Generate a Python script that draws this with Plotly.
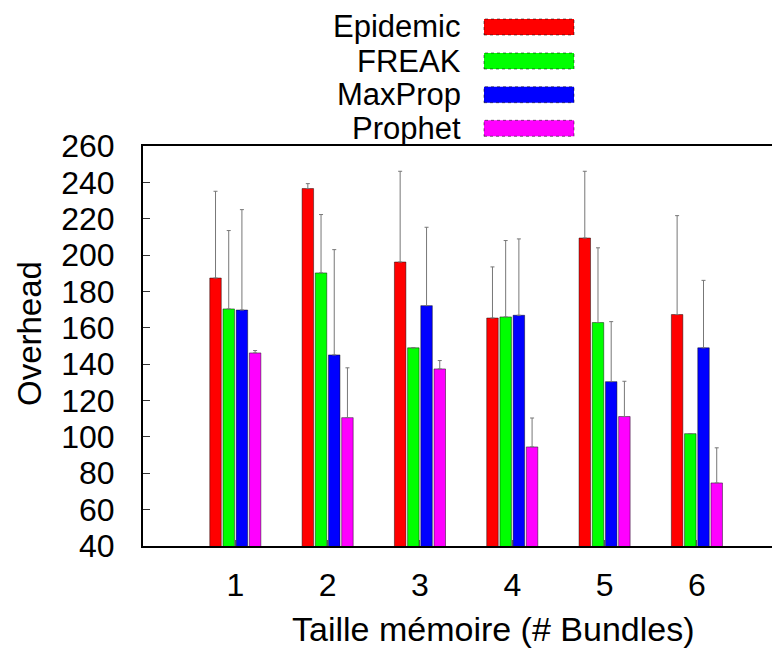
import plotly.graph_objects as go

categories = [1, 2, 3, 4, 5, 6]
series_names = ["Epidemic", "FREAK", "MaxProp", "Prophet"]
series_colors = ["#ff0000", "#00ff00", "#0000ff", "#ff00ff"]

epidemic = [187.4, 236.6, 196.2, 165.4, 209.4, 167.3]
freak = [170.4, 190.2, 149.0, 166.0, 162.9, 101.8]
maxprop = [169.8, 145.1, 172.2, 166.9, 130.4, 149.0]
prophet = [146.2, 110.6, 137.4, 94.5, 111.2, 74.7]

epidemic_upper = [235.1, 239.3, 246.1, 193.5, 246.1, 221.7]
freak_upper = [213.5, 222.3, 149.0, 208.0, 204.0, 101.8]
maxprop_upper = [225.0, 203.0, 215.3, 208.9, 163.4, 186.1]
prophet_upper = [147.5, 138.0, 142.0, 110.4, 130.6, 94.0]

y_ticks = [40, 60, 80, 100, 120, 140, 160, 180, 200, 220, 240, 260]

values = [epidemic, freak, maxprop, prophet]
uppers = [epidemic_upper, freak_upper, maxprop_upper, prophet_upper]

FONT = "Liberation Sans, Arial, sans-serif"

fig = go.Figure()
for name, color, vals, up in zip(series_names, series_colors, values, uppers):
    fig.add_trace(go.Bar(
        x=categories, y=vals, name=name,
        marker=dict(color=color, line=dict(color="rgba(0,0,0,0.45)", width=1)),
        error_y=dict(type="data", symmetric=False,
                     array=[u - v for u, v in zip(up, vals)],
                     arrayminus=[0] * len(vals),
                     color="#777777", thickness=1, width=2),
        showlegend=False,
    ))

# page body has an 8px margin: work in screen pixels and shift into figure pixels
OFF = 8
FW, FH = 780, 651
# plot area in screen pixels: left 143, right 780, top 146, bottom 546
L, R, T, B = 143 - OFF, 780 - OFF, 146 - OFF, 546 - OFF
W, H = R - L, B - T

def px(x):
    return (x - OFF - L) / W

def py(y):
    return (B - (y - OFF)) / H

annotations = []
shapes = []
row_y = [27, 61, 94.7, 128.3]
for name, color, yc in zip(series_names, series_colors, row_y):
    annotations.append(dict(x=px(463), y=py(yc), xref="paper", yref="paper",
                            text=name, showarrow=False, xanchor="right", yanchor="middle",
                            font=dict(family=FONT, size=31, color="black")))
    shapes.append(dict(type="rect", xref="paper", yref="paper",
                       x0=px(484), x1=px(574), y0=py(yc + 8), y1=py(yc - 8),
                       fillcolor=color, line=dict(color="rgba(0,0,0,0.5)", width=1, dash="dot")))

annotations.append(dict(x=px(29), y=py(334), xref="paper", yref="paper", text="Overhead",
                        showarrow=False, textangle=-90, xanchor="center", yanchor="middle",
                        borderpad=0,
                        font=dict(family=FONT, size=33, color="black")))
annotations.append(dict(x=px(493), y=py(629), xref="paper", yref="paper",
                        text="Taille mémoire (# Bundles)", showarrow=False,
                        xanchor="center", yanchor="middle",
                        font=dict(family=FONT, size=34, color="black")))

fig.update_layout(
    width=FW, height=FH,
    margin=dict(l=L, r=FW - R, t=T, b=FH - B, pad=0, autoexpand=False),
    paper_bgcolor="white", plot_bgcolor="white",
    barmode="group", bargap=0.428, bargroupgap=0.13,
    font=dict(family=FONT, size=32, color="black"),
    annotations=annotations, shapes=shapes,
)
fig.update_xaxes(range=[0.0, 6.9], tickvals=categories, ticktext=[str(c) for c in categories],
                 showline=True, linecolor="black", linewidth=2, mirror=True,
                 ticks="inside", ticklen=6, tickcolor="#555", showgrid=False, zeroline=False,
                 ticklabelstandoff=10, tickfont=dict(family=FONT, size=32))
fig.update_yaxes(range=[40, 260], tickvals=y_ticks,
                 showline=True, linecolor="black", linewidth=2, mirror=False,
                 ticks="inside", ticklen=7, tickcolor="#333", showgrid=False, zeroline=False,
                 ticklabelstandoff=20, tickfont=dict(family=FONT, size=32))

fig.write_html("out.html")
